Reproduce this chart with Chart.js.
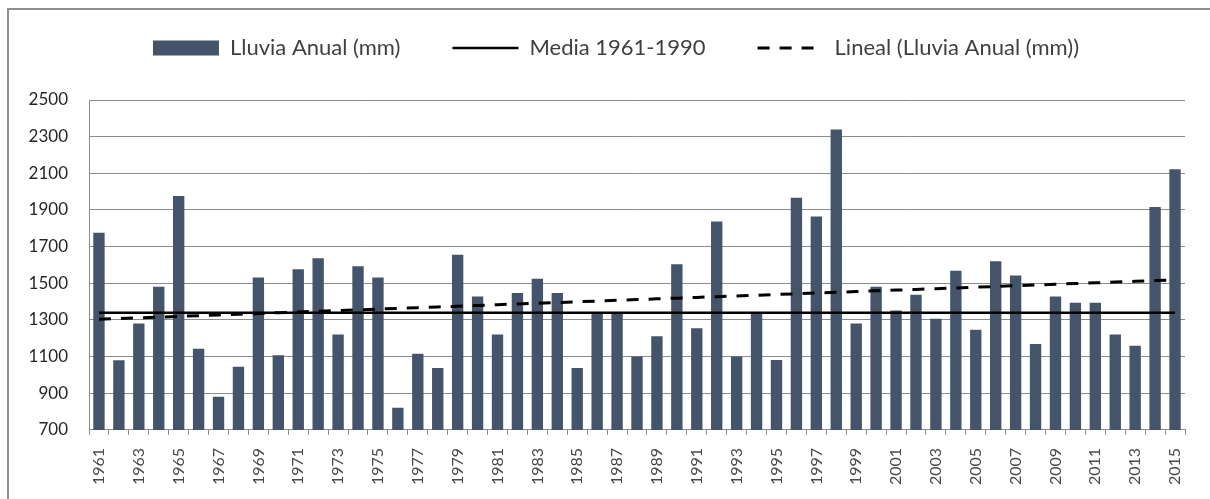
<!DOCTYPE html>
<html>
<head>
<meta charset="utf-8">
<title>Lluvia anual 1961-2015</title>
<script src="https://cdn.jsdelivr.net/npm/chart.js@4.4.1/dist/chart.umd.min.js"></script>
<style>
  html, body { margin: 0; padding: 0; background: #fff; overflow: hidden; }
  body { width: 1210px; height: 499px; position: relative; }
  /* chart frame, only its top and left edges fall inside the page */
  #frame { position: absolute; left: 7px; top: 8px; width: 1300px; height: 600px; border: 2px solid #8e8e8e; }
  #chart { position: absolute; left: 7px; top: -15px; }
</style>
</head>
<body>
<div id="frame"></div>
<canvas id="chart" width="1203" height="514"></canvas>
<script>
const years = [
  '1961', '1962', '1963', '1964', '1965', '1966', '1967', '1968', '1969', '1970',
  '1971', '1972', '1973', '1974', '1975', '1976', '1977', '1978', '1979', '1980',
  '1981', '1982', '1983', '1984', '1985', '1986', '1987', '1988', '1989', '1990',
  '1991', '1992', '1993', '1994', '1995', '1996', '1997', '1998', '1999', '2000',
  '2001', '2002', '2003', '2004', '2005', '2006', '2007', '2008', '2009', '2010',
  '2011', '2012', '2013', '2014', '2015'
];

// annual rainfall, mm
const rainfall = [
  1775, 1080, 1280, 1481, 1976, 1143, 881, 1045, 1531, 1107,
  1577, 1636, 1221, 1593, 1531, 821, 1116, 1038, 1656, 1428,
  1221, 1447, 1524, 1447, 1038, 1338, 1338, 1100, 1211, 1604,
  1255, 1837, 1100, 1338, 1081, 1967, 1864, 2339, 1280, 1481,
  1351, 1437, 1307, 1568, 1246, 1620, 1542, 1168, 1428, 1394,
  1394, 1221, 1159, 1916, 2122
];

const yTicks = [700, 900, 1100, 1300, 1500, 1700, 1900, 2100, 2300, 2500];

const refStart = '1961';
const refEnd = '1990';

// 1961-1990 reference mean
const refValues = rainfall.filter((v, i) => years[i] >= refStart && years[i] <= refEnd);
const refMean = refValues.reduce((a, b) => a + b, 0) / refValues.length;
const meanLine = rainfall.map(() => refMean);

// least squares trend of the rainfall series
function linearTrend(values) {
  const n = values.length;
  let sx = 0, sy = 0, sxy = 0, sxx = 0;
  values.forEach((y, x) => { sx += x; sy += y; sxy += x * y; sxx += x * x; });
  const slope = (n * sxy - sx * sy) / (n * sxx - sx * sx);
  const icpt = (sy - slope * sx) / n;
  return values.map((_, x) => icpt + slope * x);
}
const trendLine = linearTrend(rainfall);

const GRID = '#8c8c8c';
const FONT = 'Lato, "Open Sans", sans-serif';

// legend: extra room below it, and centred a little right of the canvas middle
const legendTweaks = {
  id: 'legendTweaks',
  afterInit(chart) {
    const legend = chart.legend;
    const fit = legend.fit;
    legend.fit = function () {
      fit.call(this);
      this.height += 31;
    };
  },
  afterLayout(chart) {
    chart.legend.left += 20;
    chart.legend.right += 20;
  }
};

function draw() {
  new Chart(document.getElementById('chart'), {
    type: 'bar',
    data: {
      labels: years,
      datasets: [
        {
          label: 'Lluvia Anual (mm)',
          data: rainfall,
          backgroundColor: '#44546a',
          borderWidth: 0,
          barPercentage: 0.57,
          categoryPercentage: 1,
          pointStyle: 'rect',
          order: 3
        },
        {
          type: 'line',
          label: 'Media 1961-1990',
          data: meanLine,
          borderColor: '#000',
          borderWidth: 2.5,
          pointRadius: 0,
          pointStyle: 'line',
          order: 2
        },
        {
          type: 'line',
          label: 'Lineal (Lluvia Anual (mm))',
          data: trendLine,
          borderColor: '#000',
          borderWidth: 3,
          borderDash: [12, 10],
          pointRadius: 0,
          pointStyle: 'line',
          order: 1
        }
      ]
    },
    options: {
      responsive: false,
      animation: false,
      events: [],
      layout: { padding: { left: 0, right: 25, top: 0, bottom: 1 } },
      plugins: {
        tooltip: { enabled: false },
        legend: {
          position: 'top',
          labels: {
            usePointStyle: true,
            pointStyleWidth: 66,
            boxHeight: 15,
            padding: 52,
            color: '#404040',
            font: { family: FONT, size: 22 },
            generateLabels(chart) {
              const items = Chart.defaults.plugins.legend.labels.generateLabels(chart);
              items.forEach(item => {
                const ds = chart.data.datasets[item.datasetIndex];
                if (ds.type === 'line') {
                  item.lineDash = ds.borderDash || [];
                  item.lineWidth = ds.borderWidth;
                  item.strokeStyle = ds.borderColor;
                }
              });
              return items.sort((a, b) => a.datasetIndex - b.datasetIndex);
            }
          }
        }
      },
      scales: {
        x: {
          offset: true,
          grid: { display: true, drawOnChartArea: false, drawTicks: true, tickLength: 5, color: GRID, offset: true },
          border: { color: GRID, width: 1 },
          ticks: {
            autoSkip: false,
            minRotation: 90,
            maxRotation: 90,
            padding: 13,
            color: '#4a4a4a',
            font: { family: FONT, size: 16 },
            callback(value, index) {
              return index % 2 === 0 ? this.getLabelForValue(value) : '';
            }
          }
        },
        y: {
          min: yTicks[0],
          max: yTicks[yTicks.length - 1],
          afterBuildTicks(scale) {
            scale.ticks = yTicks.map(v => ({ value: v }));
          },
          afterFit(scale) {
            scale.width = 82;
          },
          grid: { color: GRID, drawTicks: false },
          border: { color: GRID, width: 1 },
          ticks: {
            padding: 21,
            color: '#262626',
            font: { family: FONT, size: 17 },
            callback: value => String(value)
          }
        }
      }
    },
    plugins: [legendTweaks]
  });
}

document.fonts.load('17px Lato').then(draw, draw);
</script>
</body>
</html>
